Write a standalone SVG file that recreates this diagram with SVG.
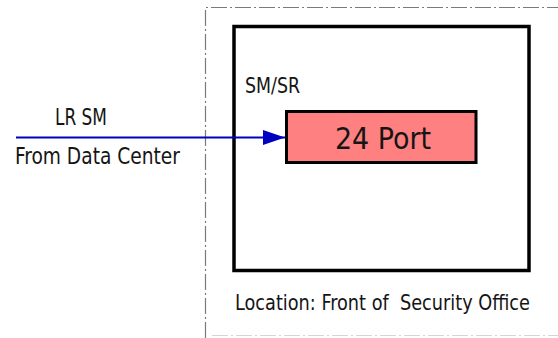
<svg xmlns="http://www.w3.org/2000/svg" width="558" height="338" viewBox="0 0 558 338">
  <defs>
    <marker id="arrowhead" viewBox="0 0 22 15" refX="22" refY="7.5" markerWidth="22" markerHeight="15" markerUnits="userSpaceOnUse" orient="auto">
      <path d="M0,0 L22,7.5 L0,15 Z" fill="#0000c0"/>
    </marker>
  </defs>
  <style>
    .label { font-family: "DejaVu Sans Condensed", "DejaVu Sans", sans-serif; fill: #151515; white-space: pre; }
    .boundary { fill: none; stroke: #7a7a7a; stroke-width: 1.2; stroke-dasharray: 16 3 2 3; }
    .boundary-faint { fill: none; stroke: #d4d4d4; stroke-width: 1.2; stroke-dasharray: 16 3 2 3; }
    .enclosure { fill: #ffffff; stroke: #000000; stroke-width: 3.5; }
    .panel { fill: #ff8080; stroke: #000000; stroke-width: 3; }
    .link { fill: none; stroke: #0000c0; stroke-width: 2; }
  </style>

  <rect width="558" height="338" fill="#ffffff"/>

  <!-- site boundary (dash-dot) -->
  <g id="boundary">
    <path class="boundary" d="M205.5,338 L205.5,7.5 L558,7.5"/>
    <path class="boundary-faint" d="M212,335.5 L558,335.5"/>
  </g>

  <!-- equipment enclosure -->
  <g id="enclosure">
    <rect class="enclosure" x="234" y="26.5" width="295" height="244"/>
    <text class="label" x="245" y="92.5" font-size="21" textLength="55" lengthAdjust="spacingAndGlyphs">SM/SR</text>
  </g>

  <!-- patch panel -->
  <g id="panel">
    <rect class="panel" x="286.5" y="111.5" width="189.5" height="51"/>
    <text class="label" x="335" y="148.5" font-size="31" textLength="96" lengthAdjust="spacingAndGlyphs">24 Port</text>
  </g>

  <!-- incoming fibre labels -->
  <g id="source">
    <text class="label" x="55" y="125" font-size="23" textLength="52" lengthAdjust="spacingAndGlyphs">LR SM</text>
    <text class="label" x="15" y="164" font-size="23" textLength="165" lengthAdjust="spacingAndGlyphs">From Data Center</text>
  </g>

  <!-- location caption -->
  <g id="location">
    <text class="label" x="235" y="309.5" font-size="21" textLength="295" lengthAdjust="spacingAndGlyphs">Location: Front of  Security Office</text>
  </g>

  <!-- connectors -->
  <g id="connectors">
    <line class="link" x1="16" y1="137.5" x2="285" y2="137.5" marker-end="url(#arrowhead)"/>
  </g>
</svg>
